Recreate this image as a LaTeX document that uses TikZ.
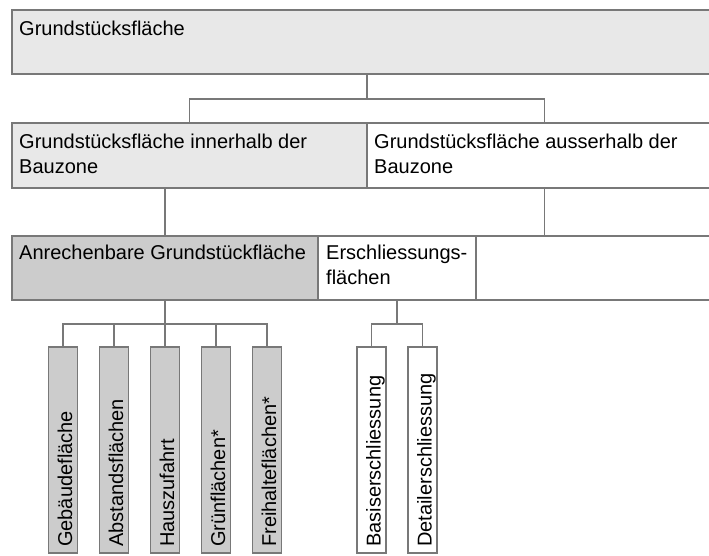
\documentclass[tikz,border=0pt]{standalone}
\usepackage{fontspec}
\setmainfont{Liberation Sans}
\usetikzlibrary{positioning,calc}
\definecolor{rand}{RGB}{120,120,120}
\definecolor{hell}{RGB}{232,232,232}
\definecolor{dunkel}{RGB}{204,204,204}

\begin{document}
\begin{tikzpicture}[x=1pt,y=1pt,
    feld/.style={rectangle, draw=rand, line width=1.2pt, inner sep=0pt, outer sep=0pt, minimum height=64pt},
    spalte/.style={feld, minimum width=29pt, minimum height=206pt},
    txt/.style={anchor=base west, inner sep=0pt, align=left, font=\fontsize{20}{25}\selectfont},
    vtxt/.style={txt, rotate=90},
    link/.style={draw=rand, line width=1.2pt}]
  \useasboundingbox (0,0) rectangle (709,-556);
  \clip (0,0) rectangle (709,-556);
  % Ebene 1
  \node[feld, fill=hell, anchor=north west, minimum width=710pt] (gf) at (12,-10) {};
  % Ebene 2
  \node[feld, fill=hell, below right=49pt and 0pt of gf.south west, minimum width=355pt, minimum height=65pt] (innen) {};
  \node[feld, fill=white, right=0pt of innen, minimum width=355pt, minimum height=65pt] (aussen) {};
  % Ebene 3
  \node[feld, fill=dunkel, below right=48pt and 0pt of innen.south west, minimum width=306pt] (anr) {};
  \node[feld, fill=white, right=0pt of anr, minimum width=158pt] (ersch) {};
  \node[feld, fill=white, right=0pt of ersch, minimum width=246pt] (rest) {};
  % Spalten
  \node[spalte, fill=dunkel, below=47pt of anr] (haus) {};
  \node[spalte, fill=dunkel, left=22pt of haus] (abst) {};
  \node[spalte, fill=dunkel, left=22pt of abst] (geb) {};
  \node[spalte, fill=dunkel, right=22pt of haus] (gruen) {};
  \node[spalte, fill=dunkel, right=22pt of gruen] (frei) {};
  \node[spalte, fill=white, below=47pt of ersch, xshift=-25.5pt] (basis) {};
  \node[spalte, fill=white, right=22pt of basis] (detail) {};
  % Texte (base = letzte Zeile)
  \node[txt] (gft) at ($(gf.north west)+(7,-26)$) {Grundstücksfläche};
  \node[txt] (innent) at ($(innen.north west)+(7,-51)$) {Grundstücksfläche innerhalb der\\Bauzone};
  \node[txt] (aussent) at ($(aussen.north west)+(7,-51)$) {Grundstücksfläche ausserhalb der\\Bauzone};
  \node[txt] (anrt) at ($(anr.north west)+(7,-23)$) {Anrechenbare Grundstückfläche};
  \node[txt] (erscht) at ($(ersch.north west)+(8,-48)$) {Erschliessungs-\\flächen};
  \foreach \n/\t in {geb/Gebäudefläche, abst/Abstandsflächen, haus/Hauszufahrt, gruen/Grünflächen*, frei/Freihalteflächen*, basis/Basiserschliessung, detail/Detailerschliessung}
    \node[vtxt] (\n t) at ($(\n.south east)+(-5.5,6)$) {\t};
  % Verbindungen
  \coordinate (k1) at ($(gf.south)+(0,-25)$);
  \draw[link] (gf.south) -- (k1);
  \draw[link] (innen.north) |- (k1) -| (aussen.north);
  \draw[link] (anr.north) -- (anr.north |- innen.south);
  \draw[link] (aussen.south) -- (aussen.south |- rest.north);
  \coordinate (k2) at ($(anr.south)+(0,-24)$);
  \draw[link] (anr.south) -- (k2);
  \draw[link] (geb.north) |- (k2) -| (frei.north);
  \foreach \n in {abst,haus,gruen} \draw[link] (\n.north) -- (\n.north |- k2);
  \coordinate (k3) at ($(ersch.south)+(0,-24)$);
  \draw[link] (ersch.south) -- (k3);
  \draw[link] (basis.north) |- (k3) -| (detail.north);
\end{tikzpicture}
\end{document}
